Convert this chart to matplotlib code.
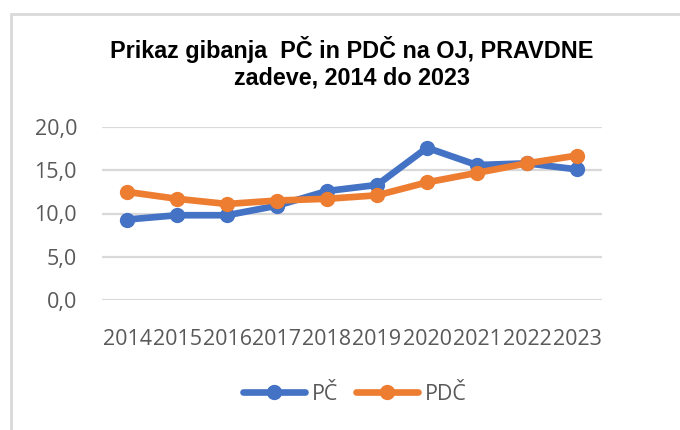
import matplotlib.pyplot as plt
from matplotlib.patches import Rectangle
from matplotlib.ticker import FuncFormatter

years = ["2014", "2015", "2016", "2017", "2018", "2019", "2020", "2021", "2022", "2023"]
pc = [9.3, 9.8, 9.8, 10.9, 12.6, 13.3, 17.6, 15.6, 15.8, 15.1]
pdc = [12.5, 11.7, 11.1, 11.5, 11.7, 12.1, 13.6, 14.7, 15.8, 16.7]

fig = plt.figure(figsize=(6.8, 4.3), dpi=100)
# okvir grafa
fig.patches.append(Rectangle((11 / 680, -0.05), 1.0, 1 - 14 / 430 + 0.05,
                             transform=fig.transFigure, fill=False,
                             edgecolor="#D9D9D9", linewidth=2))

ax = fig.add_axes([102 / 680, 1 - 300 / 430, 500 / 680, 173 / 430])
x = range(len(years))
ax.plot(x, pc, color="#4472C4", linewidth=4.8, marker="o", markersize=10,
        label="PČ", solid_capstyle="round")
ax.plot(x, pdc, color="#ED7D31", linewidth=4.8, marker="o", markersize=10,
        label="PDČ", solid_capstyle="round")

ax.set_xlim(-0.5, len(years) - 0.5)
ax.set_ylim(0, 20)
ax.set_yticks([0, 5, 10, 15, 20])
ax.yaxis.set_major_formatter(FuncFormatter(lambda v, p: f"{v:.1f}".replace(".", ",")))
ax.set_xticks(list(x))
ax.set_xticklabels(years)
ax.grid(axis="y", color="#D9D9D9", linewidth=1.6)
ax.set_axisbelow(True)
for s in ax.spines.values():
    s.set_visible(False)
ax.tick_params(length=0, labelsize=15.5, labelcolor="#595959")
ax.tick_params(axis="x", pad=21)
ax.tick_params(axis="y", pad=18)
for lab in ax.get_xticklabels() + ax.get_yticklabels():
    lab.set_family("Open Sans")

fig.text(352 / 680, 1 - 63 / 430, "Prikaz gibanja  PČ in PDČ na OJ, PRAVDNE\nzadeve, 2014 do 2023",
         ha="center", va="center", fontsize=16.8, fontweight="bold",
         family="Liberation Sans", linespacing=1.2)

leg = fig.legend(loc="center", bbox_to_anchor=(355 / 680, 1 - 394 / 430), ncol=2,
                 frameon=False, handlelength=2.85, columnspacing=0.85, handletextpad=0.33,
                 prop={"family": "Open Sans", "size": 15.5})
for t in leg.get_texts():
    t.set_color("#595959")

fig.savefig("out.png", dpi=100)
